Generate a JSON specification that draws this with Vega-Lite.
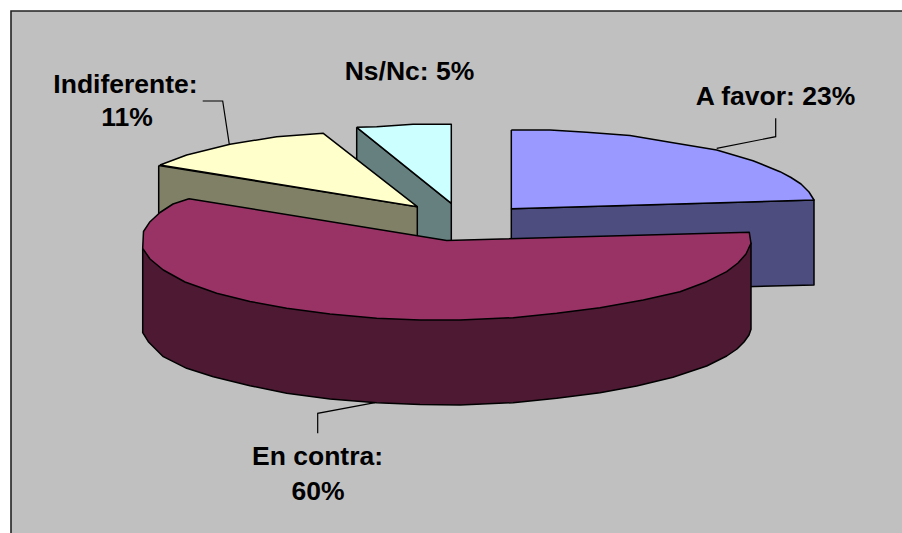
{"$schema":"https://vega.github.io/schema/vega-lite/v6.json","width":902,"height":533,"padding":0,"autosize":{"type":"fit","contains":"padding"},"background":"#FFFFFF","view":{"stroke":null},
"config":{"view":{"stroke":null}},
"datasets":{
"panel":[{"x":11,"x2":902,"y":11,"y2":533}],
"frame":[{"s":0,"x":11,"y":533},{"s":1,"x":11,"y":11},{"s":2,"x":902,"y":11}],
"shapes":[
{"part":"Ns/Nc side","s":0,"x":356.7,"y":127.3},{"part":"Ns/Nc side","s":1,"x":451.3,"y":203.3},{"part":"Ns/Nc side","s":2,"x":451.3,"y":241},{"part":"Ns/Nc side","s":3,"x":356.7,"y":241},{"part":"Ns/Nc side","s":4,"x":356.7,"y":127.3},
{"part":"Ns/Nc top","s":0,"x":356.7,"y":127.3},{"part":"Ns/Nc top","s":1,"x":376.7,"y":126.7},{"part":"Ns/Nc top","s":2,"x":413,"y":124.3},{"part":"Ns/Nc top","s":3,"x":451.3,"y":124.3},{"part":"Ns/Nc top","s":4,"x":451.3,"y":203.3},{"part":"Ns/Nc top","s":5,"x":356.7,"y":127.3},
{"part":"Indiferente side","s":0,"x":158.7,"y":165.5},{"part":"Indiferente side","s":1,"x":417.3,"y":206.7},{"part":"Indiferente side","s":2,"x":417.3,"y":236},{"part":"Indiferente side","s":3,"x":158.7,"y":240},{"part":"Indiferente side","s":4,"x":158.7,"y":165.5},
{"part":"Indiferente top","s":0,"x":160,"y":165},{"part":"Indiferente top","s":1,"x":186.7,"y":155},{"part":"Indiferente top","s":2,"x":230,"y":144.3},{"part":"Indiferente top","s":3,"x":276.7,"y":136.7},{"part":"Indiferente top","s":4,"x":323.3,"y":133.3},{"part":"Indiferente top","s":5,"x":417.3,"y":206.7},{"part":"Indiferente top","s":6,"x":160,"y":165},
{"part":"A favor side","s":0,"x":511.3,"y":208.7},{"part":"A favor side","s":1,"x":814,"y":200},{"part":"A favor side","s":2,"x":814,"y":285},{"part":"A favor side","s":3,"x":700,"y":288},{"part":"A favor side","s":4,"x":511.3,"y":288},{"part":"A favor side","s":5,"x":511.3,"y":208.7},
{"part":"A favor top","s":0,"x":511.3,"y":130},{"part":"A favor top","s":1,"x":550,"y":130},{"part":"A favor top","s":2,"x":586.7,"y":132.3},{"part":"A favor top","s":3,"x":630,"y":135.5},{"part":"A favor top","s":4,"x":673,"y":142.7},{"part":"A favor top","s":5,"x":716.7,"y":150},{"part":"A favor top","s":6,"x":753,"y":160.7},{"part":"A favor top","s":7,"x":780,"y":171.7},{"part":"A favor top","s":8,"x":791,"y":177.5},{"part":"A favor top","s":9,"x":801,"y":184},{"part":"A favor top","s":10,"x":809,"y":192},{"part":"A favor top","s":11,"x":814,"y":200},{"part":"A favor top","s":12,"x":511.3,"y":208.7},{"part":"A favor top","s":13,"x":511.3,"y":130},
{"part":"En contra side","s":0,"x":142.7,"y":248.3},{"part":"En contra side","s":1,"x":142.7,"y":332.7},{"part":"En contra side","s":2,"x":148.3,"y":341.7},{"part":"En contra side","s":3,"x":163.3,"y":356.7},{"part":"En contra side","s":4,"x":186.7,"y":368.3},{"part":"En contra side","s":5,"x":213.3,"y":376.7},{"part":"En contra side","s":6,"x":250,"y":385.7},{"part":"En contra side","s":7,"x":286.7,"y":393.3},{"part":"En contra side","s":8,"x":330,"y":399},{"part":"En contra side","s":9,"x":376.7,"y":402.7},{"part":"En contra side","s":10,"x":420,"y":404.5},{"part":"En contra side","s":11,"x":460,"y":405},{"part":"En contra side","s":12,"x":513,"y":402.7},{"part":"En contra side","s":13,"x":556.7,"y":398.3},{"part":"En contra side","s":14,"x":600,"y":392.7},{"part":"En contra side","s":15,"x":636.7,"y":386},{"part":"En contra side","s":16,"x":673,"y":377.3},{"part":"En contra side","s":17,"x":706.7,"y":366},{"part":"En contra side","s":18,"x":726.7,"y":356},{"part":"En contra side","s":19,"x":737,"y":349},{"part":"En contra side","s":20,"x":744,"y":342},{"part":"En contra side","s":21,"x":749,"y":335},{"part":"En contra side","s":22,"x":751,"y":329.3},{"part":"En contra side","s":23,"x":751,"y":243.3},{"part":"En contra side","s":24,"x":142.7,"y":248.3},
{"part":"En contra top","s":0,"x":189,"y":198.7},{"part":"En contra top","s":1,"x":173,"y":204},{"part":"En contra top","s":2,"x":160,"y":212.5},{"part":"En contra top","s":3,"x":150,"y":221.7},{"part":"En contra top","s":4,"x":143.5,"y":231.5},{"part":"En contra top","s":5,"x":142.7,"y":248.3},{"part":"En contra top","s":6,"x":150,"y":259},{"part":"En contra top","s":7,"x":163.3,"y":270},{"part":"En contra top","s":8,"x":185,"y":282},{"part":"En contra top","s":9,"x":216.7,"y":293.3},{"part":"En contra top","s":10,"x":250,"y":301.5},{"part":"En contra top","s":11,"x":286.7,"y":308.3},{"part":"En contra top","s":12,"x":330,"y":314},{"part":"En contra top","s":13,"x":376.7,"y":318.3},{"part":"En contra top","s":14,"x":420,"y":320},{"part":"En contra top","s":15,"x":460,"y":320},{"part":"En contra top","s":16,"x":513.3,"y":317.7},{"part":"En contra top","s":17,"x":556.7,"y":313.3},{"part":"En contra top","s":18,"x":600,"y":307.7},{"part":"En contra top","s":19,"x":643.3,"y":300},{"part":"En contra top","s":20,"x":680,"y":291.7},{"part":"En contra top","s":21,"x":706.7,"y":281.7},{"part":"En contra top","s":22,"x":726.7,"y":271.7},{"part":"En contra top","s":23,"x":738,"y":263},{"part":"En contra top","s":24,"x":746,"y":254},{"part":"En contra top","s":25,"x":751,"y":243.3},{"part":"En contra top","s":26,"x":749.3,"y":232.3},{"part":"En contra top","s":27,"x":446.7,"y":240.5},{"part":"En contra top","s":28,"x":189,"y":198.7}
],
"leaders":[
{"slice":"Indiferente","s":0,"x":202.7,"y":101},{"slice":"Indiferente","s":1,"x":222.7,"y":101},{"slice":"Indiferente","s":2,"x":229.3,"y":144.3},
{"slice":"A favor","s":0,"x":775.7,"y":118.3},{"slice":"A favor","s":1,"x":775.7,"y":136.7},{"slice":"A favor","s":2,"x":716.7,"y":148.3},
{"slice":"En contra","s":0,"x":317.7,"y":433.3},{"slice":"En contra","s":1,"x":317.7,"y":413.3},{"slice":"En contra","s":2,"x":375,"y":402.7}
],
"labels":[
{"text":"Indiferente:","x":125.5,"y":93.3},{"text":"11%","x":127,"y":126},
{"text":"Ns/Nc: 5%","x":409.5,"y":80},
{"text":"A favor: 23%","x":775.5,"y":105},
{"text":"En contra:","x":317.5,"y":465},{"text":"60%","x":318,"y":500}
]},
"layer":[
{"data":{"name":"panel"},"mark":{"type":"rect","fill":"#C0C0C0","stroke":null},"encoding":{"x":{"field":"x","type":"quantitative","scale":{"domain":[0,902],"nice":false,"zero":false},"axis":null},"x2":{"field":"x2"},"y":{"field":"y","type":"quantitative","scale":{"domain":[0,533],"reverse":true,"nice":false,"zero":false},"axis":null},"y2":{"field":"y2"}}},
{"data":{"name":"frame"},"mark":{"type":"line","stroke":"#222222","strokeWidth":1.6,"clip":true},"encoding":{"x":{"field":"x","type":"quantitative","axis":null},"y":{"field":"y","type":"quantitative","axis":null},"order":{"field":"s","type":"quantitative"}}},
{"data":{"name":"shapes"},"mark":{"type":"line","stroke":"#000000","strokeWidth":1.5,"strokeJoin":"round"},"encoding":{"x":{"field":"x","type":"quantitative","axis":null},"y":{"field":"y","type":"quantitative","axis":null},"order":{"field":"s","type":"quantitative"},"detail":{"field":"part"},"fill":{"field":"part","type":"nominal","legend":null,"scale":{"domain":["Ns/Nc side","Ns/Nc top","Indiferente side","Indiferente top","A favor side","A favor top","En contra side","En contra top"],"range":["#668080","#CCFFFF","#808066","#FFFFCC","#4D4D80","#9999FF","#4D1933","#993366"]}}}},
{"data":{"name":"leaders"},"mark":{"type":"line","stroke":"#000000","strokeWidth":1.2},"encoding":{"x":{"field":"x","type":"quantitative","axis":null},"y":{"field":"y","type":"quantitative","axis":null},"order":{"field":"s","type":"quantitative"},"detail":{"field":"slice"}}},
{"data":{"name":"labels"},"mark":{"type":"text","font":"Liberation Sans","fontWeight":"bold","fontSize":26.5,"align":"center","baseline":"alphabetic","fill":"#000000"},"encoding":{"x":{"field":"x","type":"quantitative","axis":null},"y":{"field":"y","type":"quantitative","axis":null},"text":{"field":"text"}}}
]}
